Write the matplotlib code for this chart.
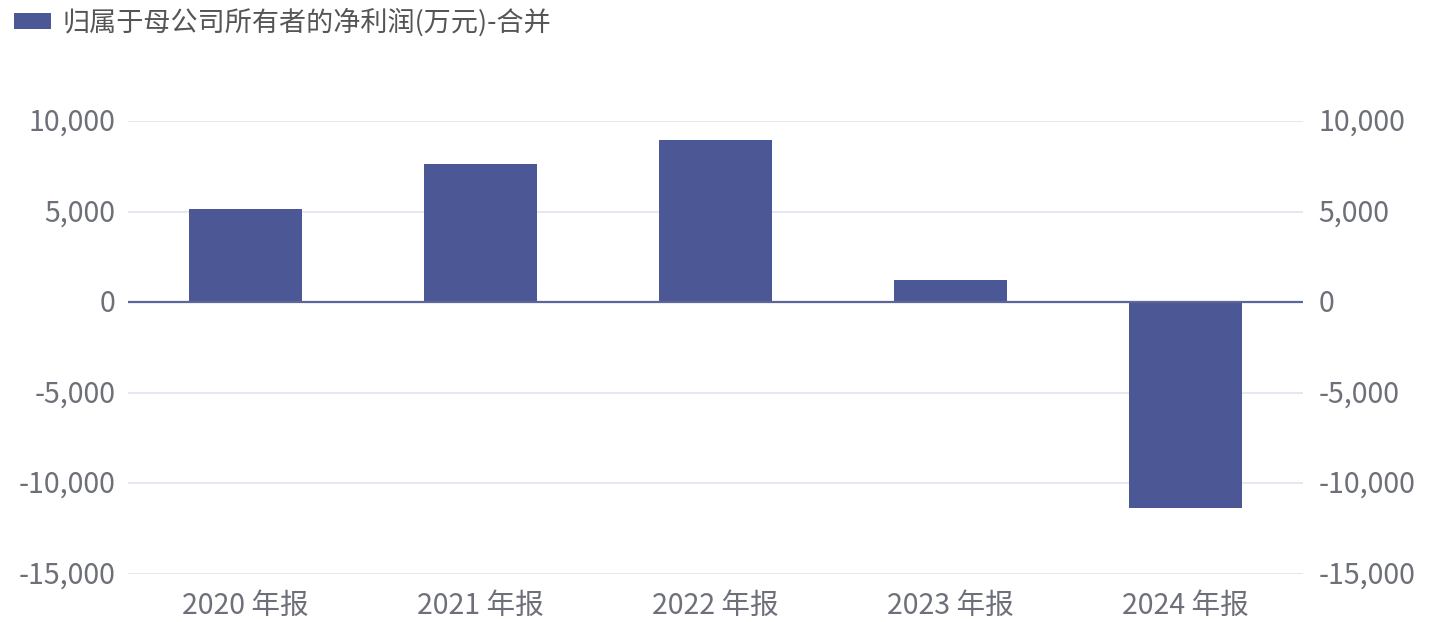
import matplotlib
matplotlib.use("Agg")
import matplotlib.pyplot as plt
from matplotlib.ticker import FuncFormatter
from matplotlib.transforms import ScaledTranslation

plt.rcParams['font.family'] = ['Noto Sans CJK SC', 'DejaVu Sans']

categories = ["2020 年报", "2021 年报", "2022 年报", "2023 年报", "2024 年报"]
values = [5140, 7630, 8950, 1225, -11380]
series_name = "归属于母公司所有者的净利润(万元)-合并"
yticks = [-15000, -10000, -5000, 0, 5000, 10000]

bar_color = "#4C5796"
tick_color = "#6E7079"
grid_color = "#E0E6F1"
fs = 20.6

fig = plt.figure(figsize=(14.38, 6.22), dpi=100)
W, H = 1438, 622
left, right, top, bottom = 128, 1303, 121.3, 574
ax = fig.add_axes([left / W, 1 - bottom / H, (right - left) / W, (bottom - top) / H])

x = list(range(len(categories)))
ax.bar(x, values, width=0.477, color=bar_color, label=series_name, zorder=3)
ax.set_xlim(-0.5, len(categories) - 0.5)
ax.set_ylim(-15000, 10000)
ax.set_yticks(yticks)
fmt = FuncFormatter(lambda v, p: f"{int(v):,}")
ax.yaxis.set_major_formatter(fmt)
for y in yticks:
    if y != 0:
        ax.axhline(y, color=grid_color, lw=1.3, zorder=1)
ax.axhline(0, color="#5D6699", lw=1.6, zorder=4)

for s in ax.spines.values():
    s.set_visible(False)
ax.set_xticks(x)
ax.set_xticklabels(categories)
ax.tick_params(axis='x', length=0, pad=12, labelsize=fs, labelcolor=tick_color)
ax.tick_params(axis='y', length=0, pad=9, labelsize=fs, labelcolor=tick_color)

ax2 = ax.twinx()
ax2.set_ylim(ax.get_ylim())
ax2.set_yticks(yticks)
ax2.yaxis.set_major_formatter(fmt)
for s in ax2.spines.values():
    s.set_visible(False)
ax2.tick_params(axis='y', length=0, pad=11, labelsize=fs, labelcolor=tick_color)

shift = ScaledTranslation(0, 2 / 100, fig.dpi_scale_trans)
for t in ax.get_yticklabels() + ax2.get_yticklabels():
    t.set_transform(t.get_transform() + shift)

leg = fig.legend(loc='upper left', bbox_to_anchor=(14 / W, 1 - 8 / H), frameon=False,
                 fontsize=19.5, handlelength=1.35, handleheight=0.5,
                 handletextpad=0.45, borderaxespad=0, borderpad=0,
                 labelcolor="#555555")

fig.savefig("out.png", dpi=100)
